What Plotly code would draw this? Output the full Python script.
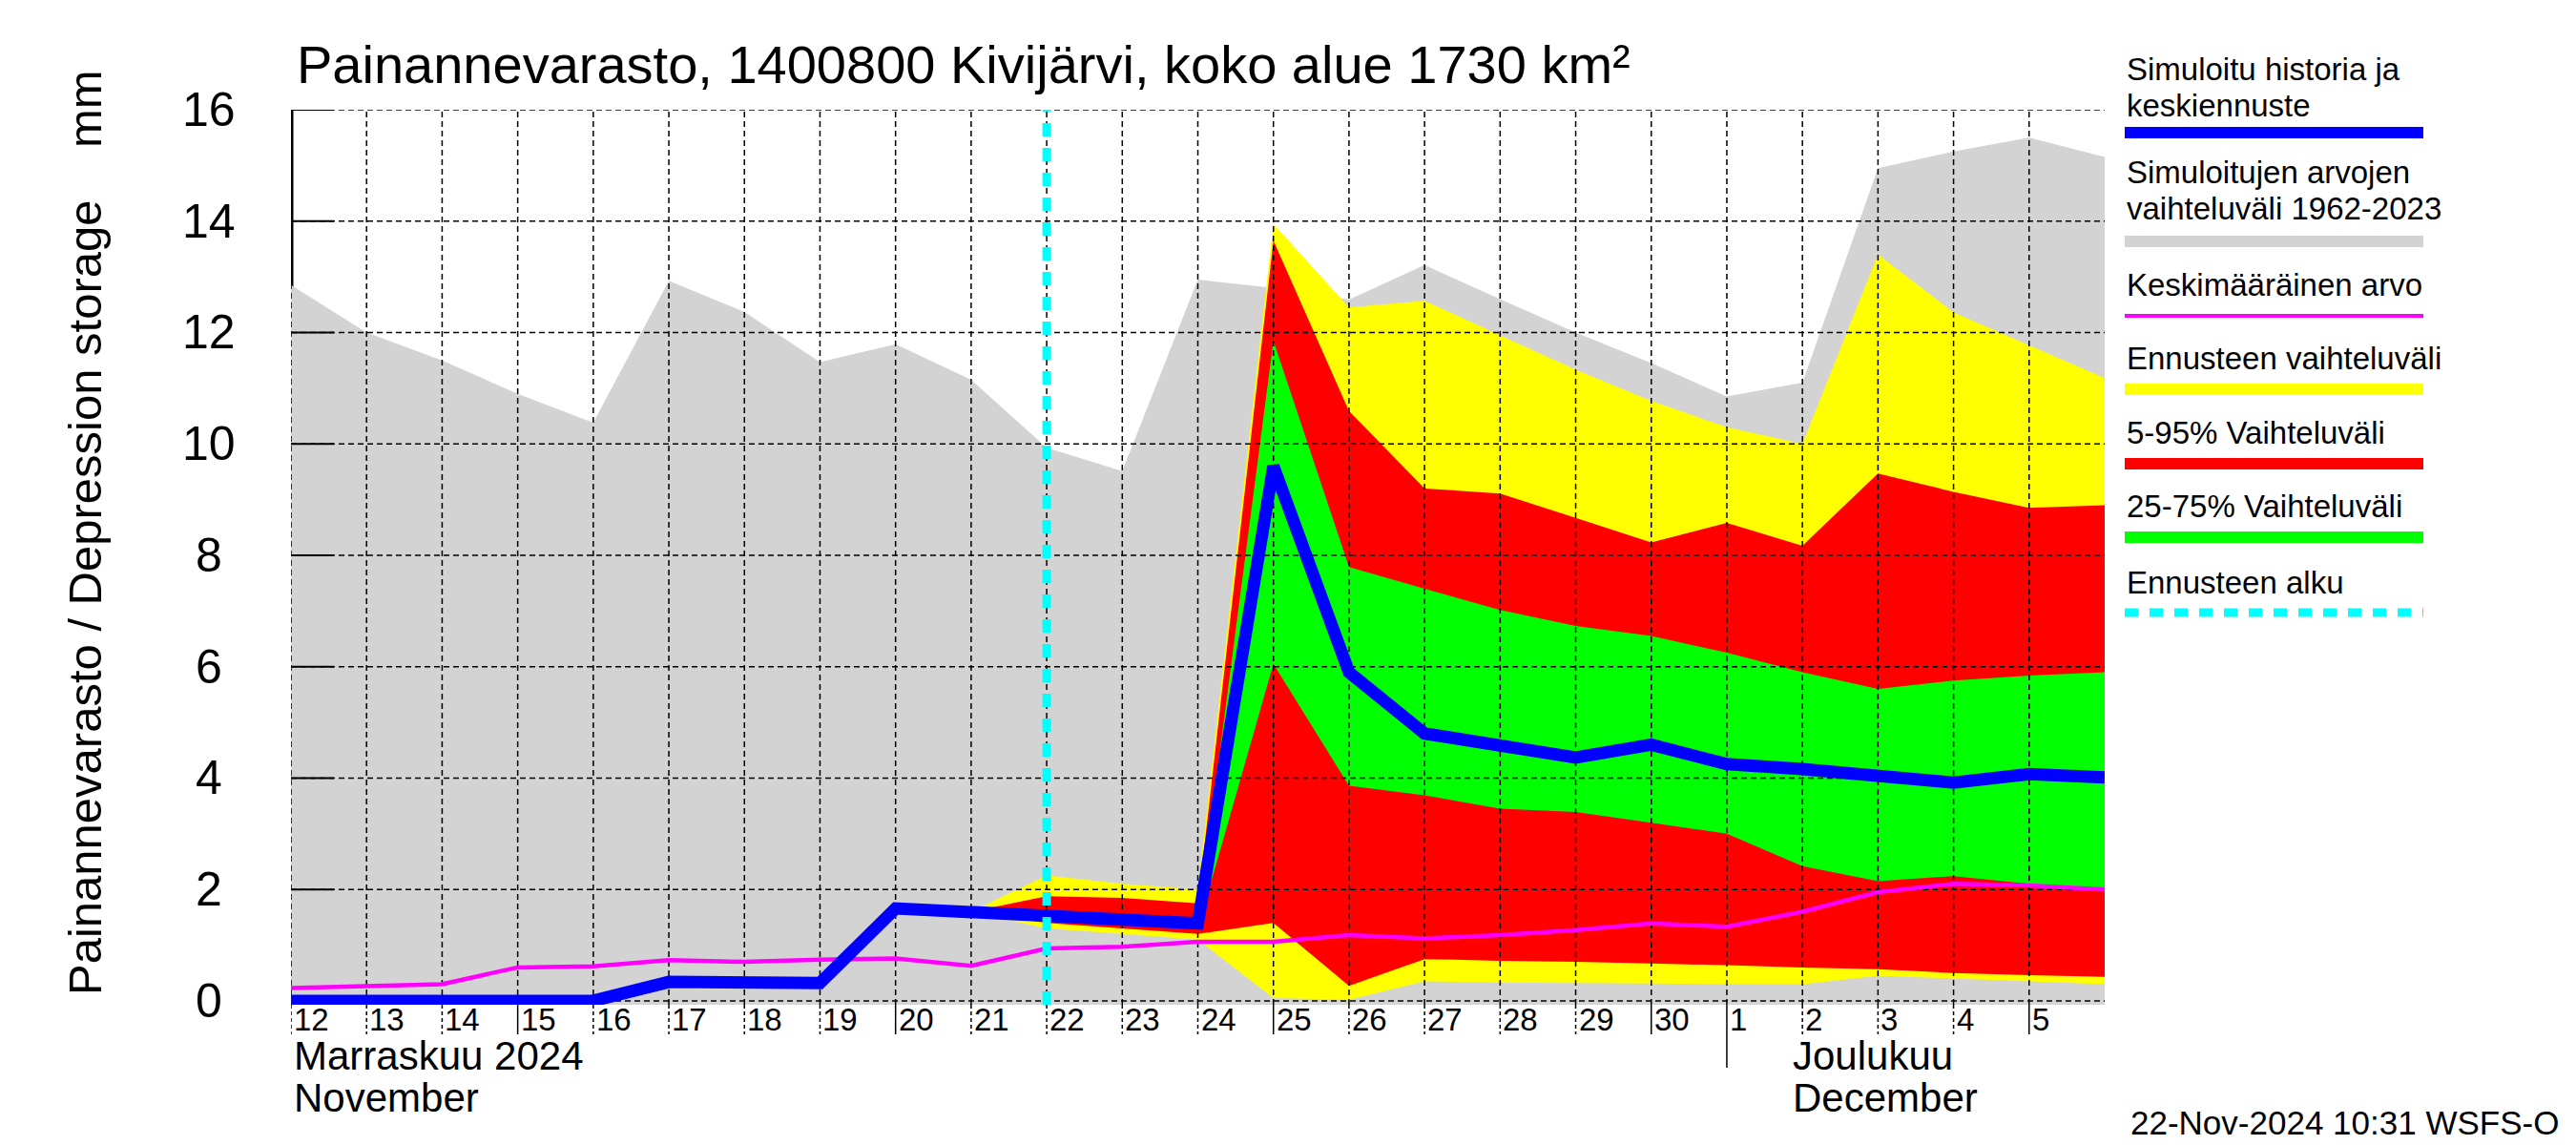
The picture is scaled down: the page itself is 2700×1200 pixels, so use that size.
import plotly.graph_objects as go
import pandas as pd

# ---------------- data ----------------
dates = pd.date_range("2024-11-12", "2024-12-06", freq="D")   # 25 daily points
hist_max = [12.85, 12.0, 11.5, 10.9, 10.38, 12.93, 12.37, 11.47, 11.79, 11.15,
            9.93, 9.51, 12.95, 12.8, 12.59, 13.21, 12.6, 12.0, 11.45, 10.85,
            11.1, 14.95, 15.25, 15.5, 15.15]
mean_val = [0.23, 0.27, 0.30, 0.60, 0.62, 0.73, 0.70, 0.74, 0.76, 0.63,
            0.94, 0.97, 1.06, 1.06, 1.18, 1.12, 1.18, 1.27, 1.39, 1.33,
            1.60, 1.95, 2.10, 2.07, 2.00]
sim_val = [0, 0, 0, 0, 0, 0.34, 0.33, 0.32, 1.66, 1.60,
           1.53, 1.47, 1.39, 9.6, 5.9, 4.8, 4.6, 4.37, 4.6, 4.25,
           4.16, 4.04, 3.92, 4.07, 4.01]

fc_dates = dates[9:]          # forecast bands, Nov 21 .. Dec 6
fc_max = [1.60, 2.25, 2.10, 2.00, 13.95, 12.45, 12.57, 11.95, 11.33, 10.77,
          10.30, 10.00, 13.40, 12.36, 11.77, 11.18]
fc_p95 = [1.60, 1.88, 1.85, 1.75, 13.65, 10.59, 9.20, 9.11, 8.67, 8.23,
          8.58, 8.17, 9.47, 9.14, 8.85, 8.90]
fc_p75 = [1.60, 1.60, 1.55, 1.45, 11.85, 7.79, 7.40, 7.02, 6.73, 6.55,
          6.25, 5.90, 5.60, 5.75, 5.84, 5.90]
fc_p25 = [1.60, 1.45, 1.40, 1.30, 6.05, 3.86, 3.69, 3.45, 3.39, 3.20,
          3.00, 2.42, 2.15, 2.24, 2.10, 2.00]
fc_p05 = [1.60, 1.40, 1.30, 1.20, 1.40, 0.27, 0.75, 0.72, 0.70, 0.67,
          0.64, 0.60, 0.57, 0.50, 0.46, 0.43]
fc_min = [1.60, 1.30, 1.20, 1.10, 0.05, 0.02, 0.35, 0.33, 0.32, 0.31,
          0.30, 0.30, 0.45, 0.40, 0.35, 0.30]
forecast_start = pd.Timestamp("2024-11-22")

y_ticks = [0, 2, 4, 6, 8, 10, 12, 14, 16]
month_labels = [("2024-11-12", 1, "Marraskuu 2024", "November"),
                ("2024-12-02", -12, "Joulukuu", "December")]
month_boundary = pd.Timestamp("2024-12-01")

title_text = "Painannevarasto, 1400800 Kivijärvi, koko alue 1730 km²"
ytitle_text = "Painannevarasto / Depression storage\u00a0\u00a0\u00a0\u00a0mm"
stamp_text = "22-Nov-2024 10:31 WSFS-O"

legend_items = [
    (["Simuloitu historia ja", "keskiennuste"], "#0000ff", 12, None),
    (["Simuloitujen arvojen", "vaihteluväli 1962-2023"], "#d3d3d3", 12, None),
    (["Keskimääräinen arvo"], "#ff00ff", 4, None),
    (["Ennusteen vaihteluväli"], "#ffff00", 12, None),
    (["5-95% Vaihteluväli"], "#ff0000", 12, None),
    (["25-75% Vaihteluväli"], "#00ff00", 12, None),
    (["Ennusteen alku"], "#00ffff", 9, "14px,12px"),
]
legend_text_y = [(72, 110), (180, 218), (298,), (375,), (453,), (530,), (610,)]
legend_line_y = [139, 253, 331, 408, 486, 563, 642]

# ---------------- geometry ----------------
W, H = 2700, 1200
L, R, T, B = 305, 494, 115, 147
Y_MIN, Y_MAX = -0.07, 16
PW, PH = W - L - R, H - T - B
FONT = "Liberation Sans"


def px_x(px):
    return (px - L) / PW


def px_y(py):
    return (H - B - py) / PH


px_per_day = PW / ((dates[-1] - dates[0]).days)

fig = go.Figure()

# left axis line (under the fills)
fig.add_trace(go.Scatter(x=[dates[0], dates[0]], y=[Y_MIN, Y_MAX], mode="lines",
                         line=dict(color="black", width=5), hoverinfo="skip",
                         showlegend=False))


def band(xs, upper, lower, color):
    xs = list(xs)
    fig.add_trace(go.Scatter(x=xs + xs[::-1], y=list(upper) + list(lower)[::-1],
                             fill="toself", fillcolor=color, mode="none",
                             hoverinfo="skip", showlegend=False))


band(dates, hist_max, [Y_MIN] * len(dates), "#d3d3d3")
band(fc_dates, fc_max, fc_min, "#ffff00")
band(fc_dates, fc_p95, fc_p05, "#ff0000")
band(fc_dates, fc_p75, fc_p25, "#00ff00")

# dashed grid drawn above the fills
gx, gy = [], []
for d in dates[:-1]:
    gx += [d, d, None]
    gy += [Y_MIN, Y_MAX, None]
for v in y_ticks:
    gx += [dates[0], dates[-1], None]
    gy += [v, v, None]
fig.add_trace(go.Scatter(x=gx, y=gy, mode="lines",
                         line=dict(color="black", width=1.5, dash="6px,4px"),
                         hoverinfo="skip", showlegend=False))

# inside ticks on the y axis
tick_td = pd.Timedelta(days=45 / px_per_day)
tx, ty = [], []
for v in y_ticks:
    tx += [dates[0], dates[0] + tick_td, None]
    ty += [v, v, None]
fig.add_trace(go.Scatter(x=tx, y=ty, mode="lines", line=dict(color="black", width=2),
                         hoverinfo="skip", showlegend=False))

fig.add_trace(go.Scatter(x=dates, y=mean_val, mode="lines",
                         line=dict(color="#ff00ff", width=4.5), showlegend=False))
fig.add_trace(go.Scatter(x=dates, y=sim_val, mode="lines",
                         line=dict(color="#0000ff", width=13), showlegend=False))
fig.add_trace(go.Scatter(x=[forecast_start, forecast_start], y=[Y_MIN, Y_MAX], mode="lines",
                         line=dict(color="#00ffff", width=9, dash="14px,12px"),
                         showlegend=False))

shapes = []
annotations = []

# x ticks below the axis and day labels
for d in dates[:-1]:
    if d == month_boundary:
        length, dash = 66, "solid"
    elif d.day % 5 == 0:
        length, dash = 31, "solid"
    else:
        length, dash = 31, "4px,3px"
    shapes.append(dict(type="line", xref="x", yref="paper", x0=d, x1=d,
                       y0=px_y(H - B), y1=px_y(H - B + length),
                       line=dict(color="black", width=1.5, dash=dash)))
    annotations.append(dict(text=str(d.day), x=d, xref="x", y=px_y(1068), yref="paper",
                            xanchor="left", yanchor="middle", xshift=1, showarrow=False,
                            font=dict(size=33, color="black", family=FONT)))

for start, shift, l1, l2 in month_labels:
    for txt, py in ((l1, 1106), (l2, 1150)):
        annotations.append(dict(text=txt, x=pd.Timestamp(start), xref="x", y=px_y(py),
                                yref="paper", xanchor="left", yanchor="middle", xshift=shift,
                                showarrow=False,
                                font=dict(size=42, color="black", family=FONT)))

# y tick labels
for v in y_ticks:
    annotations.append(dict(text=str(v), x=px_x(219), xref="paper", y=v, yref="y",
                            xanchor="center", yanchor="middle", showarrow=False,
                            font=dict(size=50, color="black", family=FONT)))

# titles
annotations.append(dict(text=title_text, x=px_x(309), xref="paper", y=px_y(68), yref="paper",
                        xanchor="left", yanchor="middle", showarrow=False,
                        font=dict(size=56, color="black", family=FONT)))
annotations.append(dict(text=ytitle_text, x=px_x(89), xref="paper", y=px_y(558), yref="paper",
                        xanchor="center", yanchor="middle", textangle=-90, showarrow=False,
                        font=dict(size=49, color="black", family=FONT)))
annotations.append(dict(text=stamp_text, x=px_x(2684), xref="paper", y=px_y(1176), yref="paper",
                        xanchor="right", yanchor="middle", showarrow=False,
                        font=dict(size=35, color="black", family=FONT)))

# legend (text above a line sample)
leg_x0, leg_x1 = 2227, 2540
for (lines, color, width, dash), tys, ly in zip(legend_items, legend_text_y, legend_line_y):
    for txt, ty_px in zip(lines, tys):
        annotations.append(dict(text=txt, x=px_x(leg_x0), xref="paper", y=px_y(ty_px),
                                yref="paper", xanchor="left", yanchor="middle",
                                showarrow=False,
                                font=dict(size=33, color="black", family=FONT)))
    shapes.append(dict(type="line", xref="paper", yref="paper", x0=px_x(leg_x0), x1=px_x(leg_x1),
                       y0=px_y(ly), y1=px_y(ly),
                       line=dict(color=color, width=width, dash=dash or "solid")))

fig.update_layout(
    width=W, height=H,
    margin=dict(l=L, r=R, t=T, b=B, autoexpand=False),
    paper_bgcolor="white", plot_bgcolor="white",
    showlegend=False,
    hovermode=False,
    xaxis=dict(type="date", range=[dates[0], dates[-1]], showgrid=False, zeroline=False,
               showline=False, showticklabels=False, ticks="", fixedrange=True),
    yaxis=dict(range=[Y_MIN, Y_MAX], showgrid=False, zeroline=False, showline=False,
               showticklabels=False, ticks="", fixedrange=True),
    shapes=shapes,
    annotations=annotations,
)

fig.write_html("out.html", config={"displayModeBar": False},
               post_script="document.body.style.margin='0px';")
